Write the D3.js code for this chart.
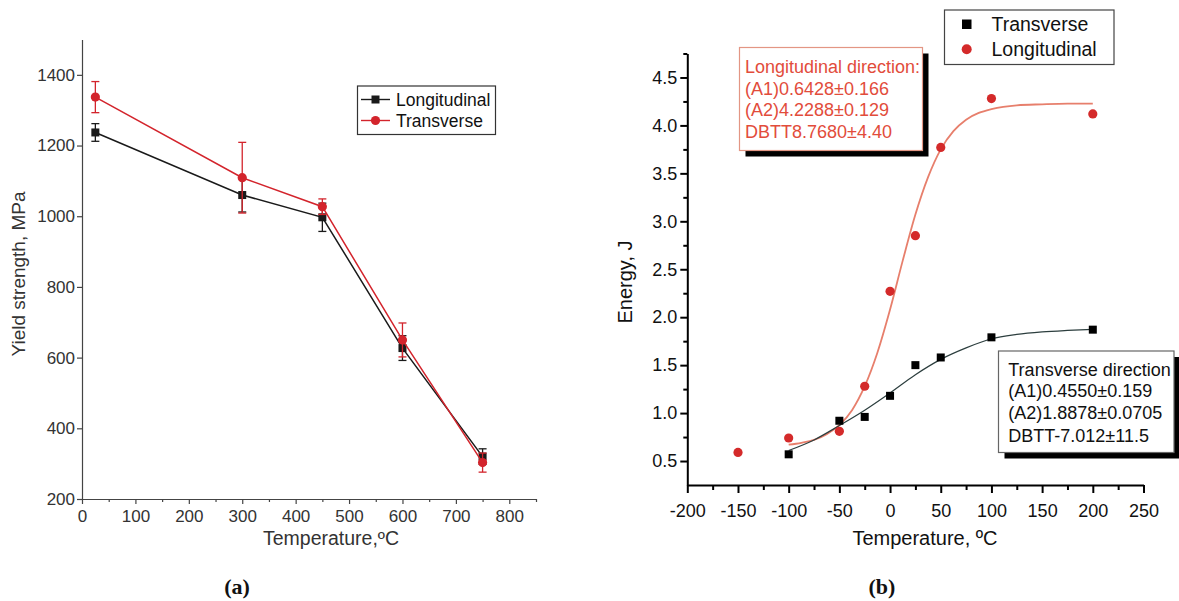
<!DOCTYPE html>
<html><head><meta charset="utf-8">
<script src="https://cdn.jsdelivr.net/npm/d3@7"></script>
<style>
body{margin:0;background:#fff}
</style>
</head><body>
<svg id="c" width="1179" height="601" style="font-family:'Liberation Sans',Arial,sans-serif"></svg>
<script>
// ---------- (a) yield strength data ----------
const ysTemps = [25, 300, 450, 600, 750];
const ysLong = [1237, 1060, 997, 627, 320];
const ysLongErr = [25, 48, 40, 35, 22];
const ysTrans = [1337, 1109, 1027, 650, 303];
const ysTransErr = [44, 100, 22, 48, 27];
const ysXTicks = [0, 100, 200, 300, 400, 500, 600, 700, 800];
const ysXMinor = [50, 150, 250, 350, 450, 550, 650, 750, 850];
const ysYTicks = [200, 400, 600, 800, 1000, 1200, 1400];
const ysLegend = ["Longitudinal", "Transverse"];

// ---------- (b) impact energy data ----------
const ceTransT = [-100, -50, -25, 0, 25, 50, 100, 200];
const ceTransE = [0.57, 0.92, 0.96, 1.18, 1.50, 1.58, 1.79, 1.87];
const ceLongT = [-150, -100, -50, -25, 0, 25, 50, 100, 200];
const ceLongE = [0.59, 0.74, 0.81, 1.28, 2.27, 2.85, 3.77, 4.28, 4.12];
// fitted curves
const fitLongT = [-100, -87.5, -75, -62.5, -50, -37.5, -25, -12.5, 0, 12.5, 25, 37.5, 50, 62.5, 75, 87.5, 100, 125, 150, 175, 200];
const fitLongE = [0.67, 0.69, 0.72, 0.78, 0.875, 1.03, 1.28, 1.63, 2.08, 2.59, 3.07, 3.46, 3.75, 3.94, 4.06, 4.13, 4.17, 4.21, 4.22, 4.227, 4.228];
const fitTransT = [-100, -75, -50, -25, 0, 25, 50, 75, 100, 125, 150, 175, 200];
const fitTransE = [0.61, 0.72, 0.87, 1.03, 1.21, 1.40, 1.56, 1.68, 1.775, 1.82, 1.846, 1.862, 1.874];
const ceXTicks = [-200, -150, -100, -50, 0, 50, 100, 150, 200, 250];
const ceXMinor = [-175, -125, -75, -25, 25, 75, 125, 175, 225];
const ceYTicks = [0.5, 1.0, 1.5, 2.0, 2.5, 3.0, 3.5, 4.0, 4.5];
const ceYMinor = [0.75, 1.25, 1.75, 2.25, 2.75, 3.25, 3.75, 4.25, 4.75];
const ceLegend = ["Transverse", "Longitudinal"];
const longNote = ["Longitudinal direction:", "(A1)0.6428±0.166", "(A2)4.2288±0.129", "DBTT8.7680±4.40"];
const transNote = ["Transverse direction", "(A1)0.4550±0.159", "(A2)1.8878±0.0705", "DBTT-7.012±11.5"];

const svg = d3.select("#c");
const RED = "#d3242c", BLK = "#1a1a1a";
const SANS = "'Liberation Sans',Arial,sans-serif";

// ===================== panel (a) =====================
const xL = d3.scaleLinear([0, 850], [82, 536]);
const yL = d3.scaleLinear([200, 1500], [499, 39.5]);
const gA = svg.append("g");

function styleAxis(g, col, sw, fs, fcol) {
  g.selectAll("path.domain").attr("stroke", col).attr("stroke-width", sw);
  g.selectAll(".tick line").attr("stroke", col).attr("stroke-width", sw);
  g.selectAll(".tick text").attr("font-size", fs).attr("fill", fcol).attr("font-family", SANS);
}
const plain = d => String(d);

const axLx = gA.append("g").attr("transform", `translate(0,${yL(200)})`)
  .call(d3.axisBottom(xL).tickValues(ysXTicks).tickSize(5).tickSizeOuter(0).tickPadding(6).tickFormat(plain));
styleAxis(axLx, "#444", 1.2, 17, "#333");
const axLxm = gA.append("g").attr("transform", `translate(0,${yL(200)})`)
  .call(d3.axisBottom(xL).tickValues(ysXMinor).tickSize(3).tickFormat(""));
axLxm.select("path.domain").remove();
styleAxis(axLxm, "#444", 1.2, 17, "#333");
const axLy = gA.append("g").attr("transform", `translate(${xL(0)},0)`)
  .call(d3.axisLeft(yL).tickValues(ysYTicks).tickSize(5).tickSizeOuter(0).tickPadding(2).tickFormat(plain));
styleAxis(axLy, "#444", 1.2, 17, "#333");

gA.append("text").attr("x", 331).attr("y", 545).attr("text-anchor", "middle")
  .attr("font-size", 19.5).attr("fill", "#333").text("Temperature,ºC");
gA.append("text").attr("transform", "translate(25,274) rotate(-90)").attr("text-anchor", "middle")
  .attr("font-size", 19).attr("fill", "#333").text("Yield strength, MPa");

function seriesA(vals, errs, color, marker) {
  const pts = ysTemps.map((t, i) => [t, vals[i], errs[i]]);
  gA.append("path").datum(pts).attr("fill", "none").attr("stroke", color).attr("stroke-width", 1.5)
    .attr("d", d3.line().x(d => xL(d[0])).y(d => yL(d[1])));
  const eb = gA.append("g").attr("stroke", color).attr("stroke-width", 1.3);
  pts.forEach(d => {
    const x = xL(d[0]), y1 = yL(d[1] + d[2]), y2 = yL(d[1] - d[2]);
    eb.append("line").attr("x1", x).attr("x2", x).attr("y1", y1).attr("y2", y2);
    eb.append("line").attr("x1", x - 4).attr("x2", x + 4).attr("y1", y1).attr("y2", y1);
    eb.append("line").attr("x1", x - 4).attr("x2", x + 4).attr("y1", y2).attr("y2", y2);
  });
  pts.forEach(d => {
    if (marker === "sq") gA.append("rect").attr("x", xL(d[0]) - 4).attr("y", yL(d[1]) - 4)
      .attr("width", 8).attr("height", 8).attr("fill", color);
    else gA.append("circle").attr("cx", xL(d[0])).attr("cy", yL(d[1])).attr("r", 4.6).attr("fill", color);
  });
}
seriesA(ysLong, ysLongErr, BLK, "sq");
seriesA(ysTrans, ysTransErr, RED, "ci");

// legend (a)
gA.append("rect").attr("x", 357.5).attr("y", 86).attr("width", 138).attr("height", 48.5)
  .attr("fill", "#fff").attr("stroke", "#333").attr("stroke-width", 1.2);
[[99.5, BLK, "sq"], [120.5, RED, "ci"]].forEach((r, i) => {
  gA.append("line").attr("x1", 361).attr("x2", 390).attr("y1", r[0]).attr("y2", r[0])
    .attr("stroke", r[1]).attr("stroke-width", 1.4);
  if (r[2] === "sq") gA.append("rect").attr("x", 371.5).attr("y", r[0] - 4).attr("width", 8).attr("height", 8).attr("fill", r[1]);
  else gA.append("circle").attr("cx", 375.5).attr("cy", r[0]).attr("r", 4.6).attr("fill", r[1]);
  gA.append("text").attr("x", 396).attr("y", r[0] + 6.3).attr("font-size", 17.5).attr("fill", "#111").text(ysLegend[i]);
});

// ===================== panel (b) =====================
const xR = d3.scaleLinear([-200, 250], [687.3, 1143.5]);
const yR = d3.scaleLinear([0.25, 4.75], [485, 53.5]);
const gB = svg.append("g");

const axRx = gB.append("g").attr("transform", `translate(0,${yR(0.25)})`)
  .call(d3.axisBottom(xR).tickValues(ceXTicks).tickSize(8).tickSizeOuter(0).tickPadding(11.5).tickFormat(plain));
styleAxis(axRx, "#000", 2, 18, "#111");
const axRxm = gB.append("g").attr("transform", `translate(0,${yR(0.25)})`)
  .call(d3.axisBottom(xR).tickValues(ceXMinor).tickSize(5).tickFormat(""));
axRxm.select("path.domain").remove();
styleAxis(axRxm, "#000", 2, 18, "#111");
const axRy = gB.append("g").attr("transform", `translate(${xR(-200)},0)`)
  .call(d3.axisLeft(yR).tickValues(ceYTicks).tickSize(7).tickSizeOuter(0).tickPadding(3).tickFormat(d => d.toFixed(1)));
styleAxis(axRy, "#000", 2, 18, "#111");
const axRym = gB.append("g").attr("transform", `translate(${xR(-200)},0)`)
  .call(d3.axisLeft(yR).tickValues(ceYMinor).tickSize(4).tickFormat(""));
axRym.select("path.domain").remove();
styleAxis(axRym, "#000", 2, 18, "#111");

gB.append("text").attr("x", 925).attr("y", 545).attr("text-anchor", "middle")
  .attr("font-size", 20).attr("fill", "#111").text("Temperature, ºC");
gB.append("text").attr("transform", "translate(632,282) rotate(-90)").attr("text-anchor", "middle")
  .attr("font-size", 20).attr("fill", "#111").text("Energy, J");

// fit curves
const fitLine = d3.line().x(d => xR(d[0])).y(d => yR(d[1])).curve(d3.curveMonotoneX);
gB.append("path").datum(fitLongT.map((t, i) => [t, fitLongE[i]])).attr("fill", "none")
  .attr("stroke", "#e77f6c").attr("stroke-width", 1.8).attr("d", fitLine);
gB.append("path").datum(fitTransT.map((t, i) => [t, fitTransE[i]])).attr("fill", "none")
  .attr("stroke", "#2c3e3e").attr("stroke-width", 1.2).attr("d", fitLine);

// points
ceTransT.forEach((t, i) => gB.append("rect").attr("x", xR(t) - 4).attr("y", yR(ceTransE[i]) - 4)
  .attr("width", 8).attr("height", 8).attr("fill", "#000"));
ceLongT.forEach((t, i) => gB.append("circle").attr("cx", xR(t)).attr("cy", yR(ceLongE[i]))
  .attr("r", 4.6).attr("fill", "#d42a2a"));

// legend (b)
gB.append("rect").attr("x", 944.5).attr("y", 10).attr("width", 169.5).attr("height", 54.5)
  .attr("fill", "#fff").attr("stroke", "#444").attr("stroke-width", 1.2);
gB.append("rect").attr("x", 962).attr("y", 19.5).attr("width", 9.5).attr("height", 9.5).attr("fill", "#000");
gB.append("circle").attr("cx", 966.7).attr("cy", 49.3).attr("r", 5).attr("fill", "#d42a2a");
gB.append("text").attr("x", 991.5).attr("y", 31.3).attr("font-size", 19.5).attr("fill", "#111").text(ceLegend[0]);
gB.append("text").attr("x", 991.5).attr("y", 56.3).attr("font-size", 19.5).attr("fill", "#111").text(ceLegend[1]);

// annotation boxes
function note(x, y, w, h, lines, border, color, tx, baselines) {
  gB.append("rect").attr("x", x + 6).attr("y", y + 6).attr("width", w).attr("height", h).attr("fill", "#000");
  gB.append("rect").attr("x", x).attr("y", y).attr("width", w).attr("height", h)
    .attr("fill", "#fff").attr("stroke", border).attr("stroke-width", 1.2);
  lines.forEach((s, i) => gB.append("text").attr("x", tx).attr("y", baselines[i])
    .attr("font-size", 18).attr("fill", color).text(s));
}
note(739.5, 47.5, 183, 103, longNote, "#e39684", "#e24c3b", 745, [73, 94.8, 116, 137.5]);
note(998.5, 351, 175.5, 101.5, transNote, "#666", "#111", 1008.3, [376, 397.3, 418.8, 441.5]);

// captions
svg.append("text").attr("x", 237).attr("y", 594).attr("text-anchor", "middle")
  .style("font-family", "'Liberation Serif','DejaVu Serif',serif").attr("font-weight", "bold")
  .attr("font-size", 22).attr("fill", "#111").text("(a)");
svg.append("text").attr("x", 882).attr("y", 594).attr("text-anchor", "middle")
  .style("font-family", "'Liberation Serif','DejaVu Serif',serif").attr("font-weight", "bold")
  .attr("font-size", 22).attr("fill", "#111").text("(b)");
</script>
</body></html>
